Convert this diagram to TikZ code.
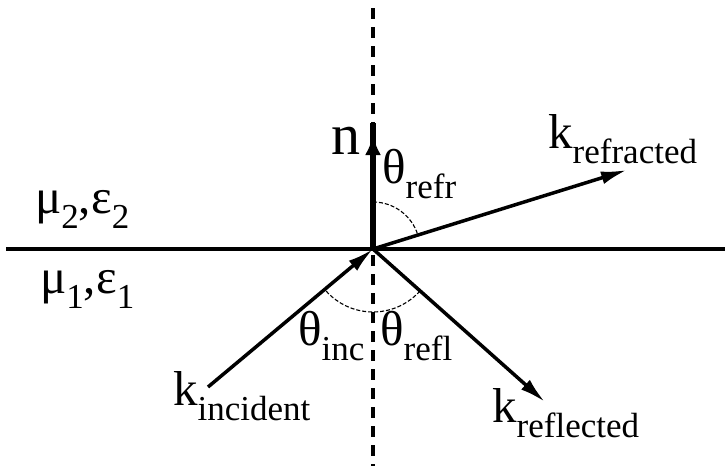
\documentclass[tikz,border=0pt]{standalone}
\usepackage{fontspec}
\newfontfamily\timesfam{Liberation Serif}
\usetikzlibrary{arrows.meta}
\newcommand\subt[1]{\raisebox{-15pt}{\fontsize{35}{35}\selectfont #1}}
\tikzset{
  lab/.style={inner sep=0pt, anchor=base west, font=\timesfam\fontsize{49}{49}\selectfont},
  biglab/.style={inner sep=0pt, anchor=base west, font=\timesfam\fontsize{58}{58}\selectfont},
  axis/.style={line width=3.5pt},
  ray/.style={line width=3.5pt, -{Latex[length=26pt,width=13pt]}},
  anglearc/.style={line width=1.1pt, dash pattern=on 4pt off 2pt},
}
\begin{document}
\begin{tikzpicture}[x=1pt,y=-1pt]
\useasboundingbox (0,0) rectangle (725,466);
\coordinate (O) at (373,249);
\coordinate (L) at (6,249);
\coordinate (R) at (725,249);
\coordinate (T) at (373,8);
\coordinate (B) at (373,466);
\coordinate (ntop) at (373,123);
\coordinate (ntip) at (373,135);
\coordinate (inc) at (208,387);
\coordinate (refl) at (545,402);
\coordinate (refr) at (627,170);
% interface and normal
\draw[axis] (L) -- (R);
\draw[axis, dash pattern=on 11pt off 8pt] (T) -- (B);
% normal vector
\draw[line width=6pt] (O) -- (ntop);
\draw[line width=6pt, -{Latex[length=20pt,width=16pt]}] (O) -- (ntip);
% rays
\draw[ray] (inc) -- (O);
\draw[ray] (O) -- (refl);
\draw[ray] (O) -- (refr);
% angle arcs
\draw[anglearc] (O) ++(-90:47) arc[start angle=-90, end angle=-17.3, radius=47];
\draw[anglearc] (O) ++(41.7:63) arc[start angle=41.7, end angle=140.1, radius=63];
% labels
\node[biglab] (nlab) at (331,154) {n};
\node[lab] (trefr) at (382,183) {θ\subt{refr}};
\node[lab] (krefr) at (548,148) {k\subt{refracted}};
\node[lab] (m2) at (35,213) {μ\subt{2},ε\subt{2}};
\node[lab] (m1) at (40,293) {μ\subt{1},ε\subt{1}};
\node[lab] (tinc) at (298,345) {θ\subt{inc}};
\node[lab] (trefl) at (380,345) {θ\subt{refl}};
\node[lab] (kinc) at (173,405) {k\subt{incident}};
\node[lab] (krefl) at (492,422) {k\subt{reflected}};
\end{tikzpicture}
\end{document}
